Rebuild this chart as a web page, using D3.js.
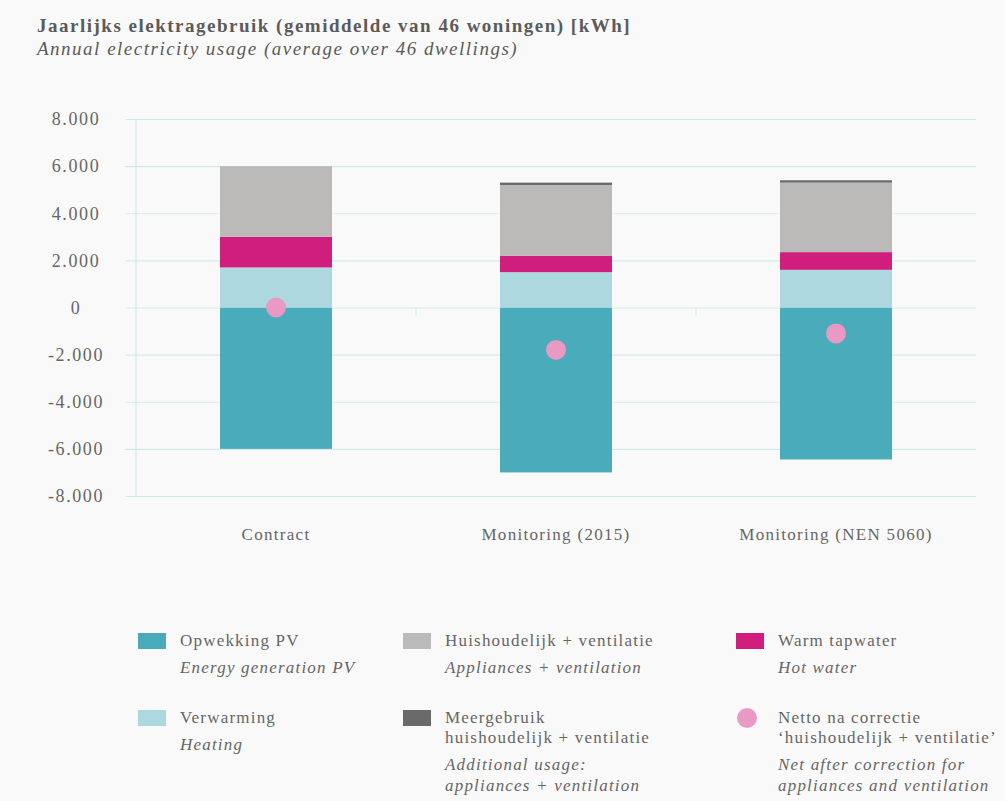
<!DOCTYPE html>
<html>
<head>
<meta charset="utf-8">
<script src="https://cdn.jsdelivr.net/npm/d3@7"></script>
<style>
  body { margin: 0; background: #faf9f9; }
  svg { display: block; background: #faf9f9; }
  text { font-family: "Liberation Serif", "DejaVu Serif", serif; fill: #666; }
</style>
</head>
<body>
<svg id="chart" width="1005" height="801"></svg>
<script>
// data (kWh)
var categories = ["Contract", "Monitoring (2015)", "Monitoring (NEN 5060)"];
var opwekkingPV = [-6000, -7000, -6450];
var verwarming = [1700, 1500, 1600];
var warmTapwater = [1300, 700, 750];
var huishoudelijk = [3000, 3000, 2950];
var meergebruik = [0, 100, 100];
var netto = [0, -1800, -1100];
var yTicks = [-8000, -6000, -4000, -2000, 0, 2000, 4000, 6000, 8000];

var seriesKeys = ["pv", "verwarming", "tapwater", "huishoudelijk", "meergebruik"];
var colors = {
  pv: "#4aabbb",
  verwarming: "#aed8e0",
  tapwater: "#cf1e7b",
  huishoudelijk: "#bcb9b9",
  meergebruik: "#6b6a6a",
  netto: "#e89ac5"
};

var legendKeys = ["pv", "huishoudelijk", "tapwater", "verwarming", "meergebruik", "netto"];
var legendNl = [
  ["Opwekking PV"],
  ["Huishoudelijk + ventilatie"],
  ["Warm tapwater"],
  ["Verwarming"],
  ["Meergebruik", "huishoudelijk + ventilatie"],
  ["Netto na correctie", "\u2018huishoudelijk + ventilatie\u2019"]
];
var legendEn = [
  ["Energy generation PV"],
  ["Appliances + ventilation"],
  ["Hot water"],
  ["Heating"],
  ["Additional usage:", "appliances + ventilation"],
  ["Net after correction for", "appliances and ventilation"]
];

var svg = d3.select("#chart");
var plot = {left: 136, right: 976, top: 119, bottom: 496};

var table = categories.map(function(c, i) {
  return {
    cat: c,
    pv: opwekkingPV[i],
    verwarming: verwarming[i],
    tapwater: warmTapwater[i],
    huishoudelijk: huishoudelijk[i],
    meergebruik: meergebruik[i],
    netto: netto[i]
  };
});

var x = d3.scaleBand()
          .domain(categories)
          .range([plot.left, plot.right])
          .paddingInner(0.6)
          .paddingOuter(0.3);

var y = d3.scaleLinear()
          .domain([-8000, 8000])
          .range([plot.bottom, plot.top]);

var nl = d3.formatLocale({decimal: ",", thousands: ".", grouping: [3], currency: ["", ""], minus: "-"});
var fmt = nl.format(",");

// title
svg.append("text")
   .attr("x", 37).attr("y", 32)
   .style("font-size", "19px").style("font-weight", "bold")
   .style("letter-spacing", "1.5px").style("fill", "#5b5b5b")
   .text("Jaarlijks elektragebruik (gemiddelde van 46 woningen) [kWh]");
svg.append("text")
   .attr("x", 37).attr("y", 55)
   .style("font-size", "19px").style("font-style", "italic")
   .style("letter-spacing", "1.5px").style("fill", "#5b5b5b")
   .text("Annual electricity usage (average over 46 dwellings)");

// grid + y axis
var yAxis = d3.axisLeft(y)
              .tickValues(yTicks)
              .tickSize(-(plot.right - plot.left + 11))
              .tickFormat(fmt);

var gy = svg.append("g")
            .attr("transform", "translate(" + (plot.left - 11) + ",0)")
            .call(yAxis);
gy.select(".domain").remove();
gy.selectAll(".tick line").attr("stroke", "#d3eaec").attr("stroke-width", 1.2);
gy.selectAll(".tick text")
  .attr("x", 76 - (plot.left - 11))
  .attr("text-anchor", "middle")
  .style("font-family", "'Liberation Serif', serif")
  .style("font-size", "18px")
  .style("letter-spacing", "1.6px")
  .style("fill", "#666");

svg.append("line")
   .attr("x1", plot.left).attr("x2", plot.left)
   .attr("y1", plot.top).attr("y2", plot.bottom)
   .attr("stroke", "#d3eaec").attr("stroke-width", 1.2);

// category separator ticks on the zero line
var step = x.step();
categories.slice(0, -1).forEach(function(c) {
  var sx = x(c) + x.bandwidth() + step * x.paddingInner() / 2;
  svg.append("line")
     .attr("x1", sx).attr("x2", sx)
     .attr("y1", y(0)).attr("y2", y(0) + 8)
     .attr("stroke", "#d3eaec").attr("stroke-width", 1.2);
});

// stacked bars
var stack = d3.stack().keys(seriesKeys).offset(d3.stackOffsetDiverging);
var layers = stack(table);

svg.append("g").selectAll("g")
   .data(layers)
   .join("g")
   .attr("fill", function(d) { return colors[d.key]; })
   .selectAll("rect")
   .data(function(d) { return d; })
   .join("rect")
   .attr("x", function(d) { return x(d.data.cat); })
   .attr("y", function(d) { return y(d[1]); })
   .attr("width", x.bandwidth())
   .attr("height", function(d) { return Math.abs(y(d[0]) - y(d[1])); });

// net dots
svg.append("g").selectAll("circle")
   .data(table)
   .join("circle")
   .attr("cx", function(d) { return x(d.cat) + x.bandwidth() / 2; })
   .attr("cy", function(d) { return y(d.netto); })
   .attr("r", 10)
   .attr("fill", colors.netto);

// category labels
svg.append("g").selectAll("text")
   .data(categories)
   .join("text")
   .attr("x", function(d) { return x(d) + x.bandwidth() / 2; })
   .attr("y", 540)
   .attr("text-anchor", "middle")
   .style("font-size", "17px")
   .style("letter-spacing", "1.3px")
   .text(function(d) { return d; });

// legend
var colX = [138, 403, 736];
var rowY = [633, 710];
legendKeys.forEach(function(k, i) {
  var gx = colX[i % 3], gy0 = rowY[Math.floor(i / 3)];
  var g = svg.append("g").attr("transform", "translate(" + gx + "," + gy0 + ")");
  if (k === "netto") {
    g.append("circle").attr("cx", 11).attr("cy", 8).attr("r", 10).attr("fill", colors[k]);
  } else {
    g.append("rect").attr("width", 28).attr("height", 16).attr("fill", colors[k]);
  }
  var ty = 13;
  legendNl[i].forEach(function(line, j) {
    g.append("text").attr("x", 42).attr("y", ty + j * 20)
     .style("font-size", "17px").style("letter-spacing", "1.2px")
     .text(line);
  });
  ty = ty + (legendNl[i].length - 1) * 20 + 27;
  legendEn[i].forEach(function(line, j) {
    g.append("text").attr("x", 42).attr("y", ty + j * 21)
     .style("font-size", "17px").style("letter-spacing", "1.2px")
     .style("font-style", "italic")
     .text(line);
  });
});
</script>
</body>
</html>
